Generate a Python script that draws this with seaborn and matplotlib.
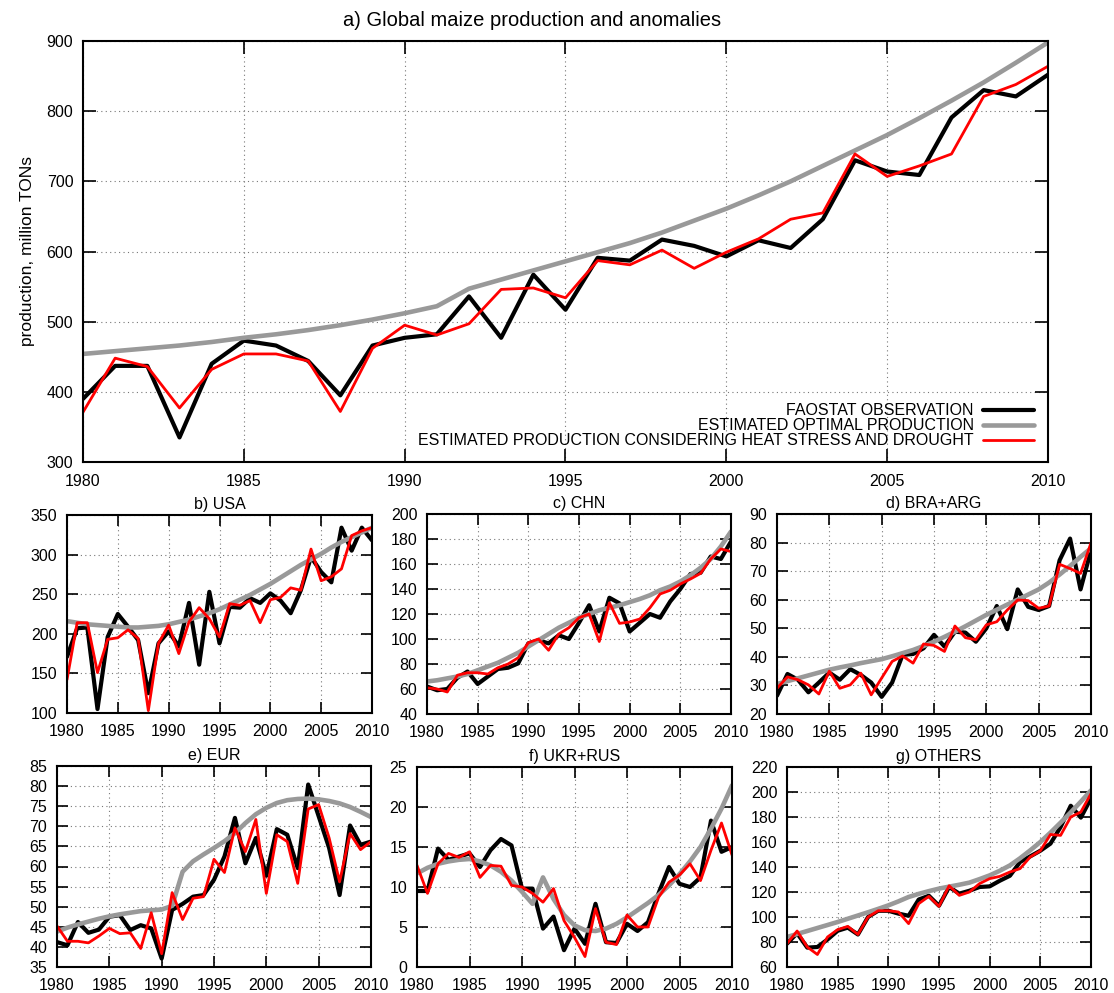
import matplotlib

matplotlib.use("Agg")
import matplotlib.pyplot as plt
import numpy as np
import pandas as pd
import seaborn as sns

years = list(range(1980, 2011))

# a) global, million tons
glob_obs = [390, 437, 437, 335, 440, 473, 466, 444, 395, 466, 477, 482, 536, 477, 567, 517,
            591, 587, 617, 608, 593, 616, 605, 646, 730, 714, 709, 791, 830, 821, 852]
glob_opt = [454, 458, 462, 466, 471, 477, 482, 488, 495, 503, 512, 522, 547, 560, 573, 586,
            599, 612, 627, 644, 661, 680, 700, 722, 744, 766, 790, 815, 841, 869, 898]
glob_est = [371, 448, 436, 377, 432, 454, 454, 444, 372, 462, 495, 481, 497, 546, 548, 534,
            587, 581, 602, 576, 599, 618, 646, 655, 739, 707, 722, 739, 821, 838, 864]

usa_obs = [171, 207, 208, 105, 196, 225, 209, 192, 125, 188, 203, 184, 239, 161, 253, 188,
           234, 233, 245, 239, 251, 242, 226, 255, 297, 278, 265, 334, 305, 334, 318]
usa_opt = [216, 214, 212, 211, 210, 209, 208, 208, 209, 210, 212, 215, 218, 222, 226, 231,
           237, 243, 249, 256, 263, 271, 279, 287, 294, 301, 309, 316, 322, 328, 334]
usa_est = [142, 214, 214, 151, 193, 195, 205, 194, 103, 188, 211, 175, 215, 233, 219, 196,
           238, 236, 242, 214, 243, 246, 258, 255, 307, 267, 272, 282, 324, 330, 334]

chn_obs = [62, 59, 60, 69, 74, 64, 70, 76, 77, 80.5, 96.5, 99, 96.5, 103, 100, 113,
           127, 106, 133, 128.5, 106, 113, 120, 117, 130, 140, 152, 153, 166, 164, 178]
chn_opt = [66, 67, 68.5, 70, 72, 75, 78, 81, 85, 89, 94, 99, 104, 109, 113, 117,
           120, 123, 125, 127, 129.5, 132, 135, 139, 142, 146, 151, 157, 164, 174, 186]
chn_est = [61, 60, 57.6, 71, 73, 73, 72, 77, 80, 85, 97, 100, 91, 104, 109, 117,
           120, 98, 129, 112.5, 113.6, 116, 125, 136, 139, 144, 148, 152.5, 164, 172, 170]

bra_obs = [26.4, 34, 32, 27.6, 31, 34.5, 32, 35.7, 33.7, 31, 26, 31, 40.7, 41, 43, 47.7,
           43.6, 48.8, 48.5, 45.3, 50, 57.8, 49.7, 63.6, 57.5, 56.4, 57.8, 73.8, 81.4, 63.6, 77.3]
bra_opt = [30.5, 31.5, 32.5, 33.5, 34.5, 35.5, 36.3, 37, 37.8, 38.5, 39.2, 40.2, 41.3, 42.4, 43.8, 45.3,
           47, 48.8, 50.7, 52.7, 54.7, 56.5, 58.3, 60, 61.8, 63.6, 66, 68.8, 71.8, 75, 78]
bra_est = [29, 33, 32, 30.2, 27, 35, 29, 30.2, 34.3, 26.7, 32.6, 38.4, 40.3, 37.8, 44.5, 44,
           41.9, 50.8, 46.7, 46, 51.2, 52.3, 56.4, 59.9, 59.7, 57, 57.8, 72.4, 70.9, 69.2, 79.9]

eur_obs = [41.2, 40.4, 46.2, 43.5, 44.3, 47.5, 47.9, 44.2, 45.4, 44.6, 37.1, 49.2, 50.7, 52.5, 52.9, 56.7,
           62.5, 72.1, 60.8, 67.1, 57.7, 69.3, 67.9, 59.6, 80.4, 72.5, 64.6, 52.9, 70.2, 65.4, 66.2]
eur_opt = [43.8, 44.8, 45.6, 46.3, 47, 47.6, 48.1, 48.5, 48.9, 49.1, 49.3, 50.2, 58.7, 61.3, 63, 64.6,
           66.3, 68.3, 70.8, 73, 74.6, 75.8, 76.5, 76.8, 76.9, 76.7, 76.3, 75.7, 74.8, 73.6, 72.3]
eur_est = [45.2, 41.4, 41.4, 41, 42.7, 44.6, 43.3, 43.5, 39.6, 48.5, 38.3, 53.5, 46.8, 52.1, 52.5, 61.8,
           58.5, 69.6, 63.7, 71.7, 53.3, 67.9, 66.2, 55.8, 74.3, 75.4, 67.1, 56.2, 68.2, 64.2, 66.2]

ukr_obs = [9.5, 9.5, 14.8, 13.4, 13.8, 14.2, 12.5, 14.6, 16, 15.2, 9.8, 9.8, 4.8, 6.3, 2.1, 4.8,
           2.9, 7.9, 3.1, 3, 5.4, 4.5, 5.6, 9.2, 12.5, 10.4, 10, 11.2, 18.3, 14.4, 15]
ukr_opt = [11.7, 12.4, 12.9, 13.2, 13.4, 13.5, 13.2, 12.7, 11.9, 10.8, 9.4, 7.9, 11.2, 8.5, 6.5, 5.2,
           4.6, 4.5, 4.8, 5.4, 6.2, 7.1, 8, 9, 10.2, 11.6, 13.2, 15, 17.3, 19.8, 22.7]
ukr_est = [12.7, 9.2, 12.9, 14.2, 13.7, 14.4, 11.2, 12.7, 12.6, 10.2, 10, 9.2, 8.1, 9.8, 5.8, 3.7,
           1.3, 7.3, 3.1, 2.8, 6.5, 5, 5, 8.7, 10.6, 11.5, 12.9, 10.8, 14.6, 18, 14]

oth_obs = [78.7, 87, 75.5, 76, 82, 89, 91.5, 86, 100, 105, 105, 102.7, 101, 114, 117, 109,
           124, 118.7, 121, 124, 124.5, 129, 133, 144, 148.5, 153, 158.7, 172, 189, 179.5, 195]
oth_opt = [84, 86.4, 88.8, 91.2, 93.6, 96, 98.6, 101.2, 103.8, 106.5, 109.3, 112.5, 116, 118.5, 120.7, 122.7,
           124.3, 125.8, 127.5, 130.3, 133.3, 137, 141.3, 147, 153.3, 160, 167.5, 175.5, 183.7, 192.3, 201.3]
oth_est = [78.7, 88.8, 76, 70, 84, 89.9, 92.5, 86, 100, 105, 105, 104, 94.7, 110.7, 116.5, 108.5,
           125, 117.3, 120, 126.7, 130.7, 132.5, 136, 138.7, 148, 153, 166, 165.3, 180, 184, 198.7]

series_labels = ["FAOSTAT OBSERVATION", "ESTIMATED OPTIMAL PRODUCTION",
                 "ESTIMATED PRODUCTION CONSIDERING HEAT STRESS AND DROUGHT"]

sns.set_style("ticks")
plt.rcParams["font.family"] = ["Liberation Sans", "DejaVu Sans"]
plt.rcParams["font.size"] = 11.5
for key in ["text.color", "axes.labelcolor", "xtick.color", "ytick.color", "axes.edgecolor"]:
    plt.rcParams[key] = "black"

colors = ["black", "#999999", "#ff0000"]
widths = [3.0, 3.3, 2.0]


def draw(ax, obs, opt, est, title, ylim, ystep, big=False):
    df = pd.DataFrame({"year": years * 3,
                       "value": obs + opt + est,
                       "series": [s for s in series_labels for _ in years]})
    for lab, c, lw in zip(series_labels, colors, widths):
        sns.lineplot(data=df[df["series"] == lab], x="year", y="value", color=c,
                     linewidth=lw, label=lab if big else None, ax=ax)
    ax.set_xlim(1980, 2010)
    ax.set_ylim(*ylim)
    ax.set_xticks(np.arange(1980, 2011, 5))
    ax.set_yticks(np.arange(ylim[0], ylim[1] + ystep / 2, ystep))
    ax.grid(True, linestyle=(0, (1, 3)), color="#777777", linewidth=0.8)
    ax.tick_params(direction="in", top=True, right=True, length=9.5 if big else 8,
                   width=1.2, labelsize=11.5, colors="black")
    ax.tick_params(axis="x", pad=8.5 if big else 8)
    ax.tick_params(axis="y", pad=7)
    for sp in ax.spines.values():
        sp.set_linewidth(1.5)
        sp.set_color("black")
    ax.set_xlabel("")
    ax.set_ylabel("")
    if big:
        ax.set_title(title, fontsize=14.5, pad=11, x=0.465)
    else:
        ax.set_title(title, fontsize=11.5, pad=4)


fig = plt.figure(figsize=(11.14, 9.93), dpi=100)
W, H = 1114, 993


def box(l, r, t, b):
    return [l / W, 1 - b / H, (r - l) / W, (b - t) / H]


ax_a = fig.add_axes(box(83, 1048, 41, 462))
draw(ax_a, glob_obs, glob_opt, glob_est, "a) Global maize production and anomalies",
     (300, 900), 100, big=True)
ax_a.set_ylabel("production, million TONs", fontsize=12.5, labelpad=8)
leg = ax_a.legend(loc="lower right", frameon=False, markerfirst=False, fontsize=11.5,
                  handlelength=3.2, labelspacing=0.0, borderaxespad=0.45, handletextpad=0.6)

panels = [
    (box(67, 372, 515, 713), usa_obs, usa_opt, usa_est, "b) USA", (100, 350), 50),
    (box(427, 731, 514, 714), chn_obs, chn_opt, chn_est, "c) CHN", (40, 200), 20),
    (box(777, 1091, 514, 714), bra_obs, bra_opt, bra_est, "d) BRA+ARG", (20, 90), 10),
    (box(57, 371, 766, 967), eur_obs, eur_opt, eur_est, "e) EUR", (35, 85), 5),
    (box(417, 732, 767, 967), ukr_obs, ukr_opt, ukr_est, "f) UKR+RUS", (0, 25), 5),
    (box(787, 1091, 767, 967), oth_obs, oth_opt, oth_est, "g) OTHERS", (60, 220), 20),
]
for rect, o, p, e, t, yl, ys in panels:
    ax = fig.add_axes(rect)
    draw(ax, o, p, e, t, yl, ys)

fig.savefig("out.png", dpi=100)
